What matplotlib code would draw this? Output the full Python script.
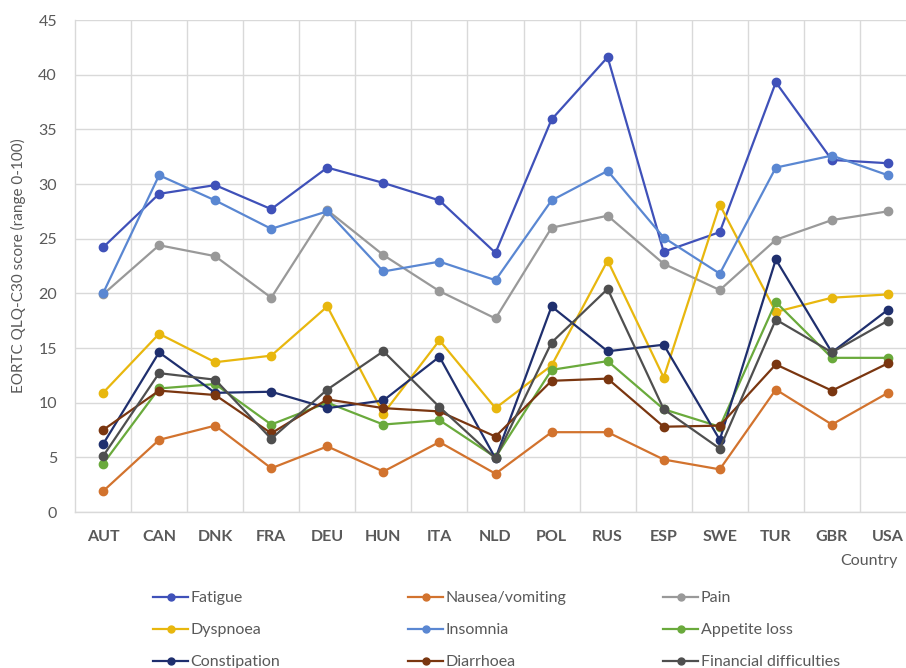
import matplotlib
matplotlib.use("Agg")
import matplotlib.pyplot as plt
import numpy as np
from matplotlib.lines import Line2D

plt.rcParams['font.family'] = ['Lato', 'DejaVu Sans']

countries = ["AUT", "CAN", "DNK", "FRA", "DEU", "HUN", "ITA", "NLD",
             "POL", "RUS", "ESP", "SWE", "TUR", "GBR", "USA"]

fatigue      = [24.2, 29.1, 29.9, 27.7, 31.5, 30.1, 28.5, 23.7, 35.9, 41.6, 23.8, 25.6, 39.3, 32.2, 31.9]
nausea       = [1.9, 6.6, 7.9, 4.0, 6.0, 3.7, 6.4, 3.5, 7.3, 7.3, 4.8, 3.9, 11.2, 8.0, 10.9]
pain         = [19.9, 24.4, 23.4, 19.6, 27.6, 23.5, 20.2, 17.7, 26.0, 27.1, 22.7, 20.3, 24.9, 26.7, 27.5]
dyspnoea     = [10.9, 16.3, 13.7, 14.3, 18.8, 9.0, 15.7, 9.5, 13.4, 23.0, 12.3, 28.1, 18.3, 19.6, 19.9]
insomnia     = [20.0, 30.8, 28.5, 25.9, 27.5, 22.0, 22.9, 21.2, 28.5, 31.2, 25.1, 21.8, 31.5, 32.6, 30.8]
appetite     = [4.4, 11.3, 11.7, 8.0, 10.0, 8.0, 8.4, 5.0, 13.0, 13.8, 9.4, 7.8, 19.2, 14.1, 14.1]
constipation = [6.2, 14.6, 10.9, 11.0, 9.5, 10.2, 14.2, 4.9, 18.8, 14.7, 15.3, 6.6, 23.1, 14.6, 18.5]
diarrhoea    = [7.5, 11.1, 10.7, 7.2, 10.3, 9.5, 9.2, 6.9, 12.0, 12.2, 7.8, 7.9, 13.5, 11.1, 13.6]
financial    = [5.1, 12.7, 12.1, 6.7, 11.2, 14.7, 9.6, 4.9, 15.5, 20.4, 9.4, 5.8, 17.6, 14.6, 17.5]

series = [
    ("Fatigue", fatigue, "#3F51B9"),
    ("Nausea/vomiting", nausea, "#D2732E"),
    ("Pain", pain, "#999999"),
    ("Dyspnoea", dyspnoea, "#E8B70E"),
    ("Insomnia", insomnia, "#5A87D2"),
    ("Appetite loss", appetite, "#6AAA3C"),
    ("Constipation", constipation, "#1F2F6E"),
    ("Diarrhoea", diarrhoea, "#7A3610"),
    ("Financial difficulties", financial, "#4F4F4F"),
]

W, H = 906, 668
fig = plt.figure(figsize=(W / 100, H / 100), dpi=100)
left, right, top, bottom = 75, 916, 20, 512
ax = fig.add_axes([left / W, 1 - bottom / H, (right - left) / W, (bottom - top) / H])

x = np.arange(len(countries))
for name, vals, col in series:
    ax.plot(x, vals, color=col, lw=1.6, marker='o', ms=6, label=name, zorder=3)

ax.set_xlim(-0.5, len(countries) - 0.5)
ax.set_ylim(0, 45)
ax.set_yticks(np.arange(0, 46, 5))
ax.set_xticks(x)
ax.set_xticklabels(countries, fontweight='bold')
ax.set_xticks(np.arange(0.5, len(countries) - 0.5, 1), minor=True)
ax.grid(True, which='major', axis='y', color='#D9D9D9', lw=1.0, zorder=0)
ax.grid(True, which='minor', axis='x', color='#D9D9D9', lw=1.0, zorder=0)
ax.tick_params(axis='both', which='both', length=0)
ax.tick_params(axis='y', labelsize=11.5, labelcolor='#595959', pad=13)
ax.tick_params(axis='x', labelsize=11.5, labelcolor='#595959', pad=13)
for s in ['top', 'right']:
    ax.spines[s].set_visible(False)
for s in ['left', 'bottom']:
    ax.spines[s].set_color('#D9D9D9')
    ax.spines[s].set_linewidth(1.0)
ax.set_axisbelow(True)

fig.text(18 / W, 1 - 266 / H, "EORTC QLQ-C30 score (range 0-100)", rotation=90,
         ha='center', va='center', fontsize=11, color='#595959')
fig.text(898 / W, 1 - 561 / H, "Country", ha='right', va='center',
         fontsize=11.5, color='#595959')

col_x = [153, 408, 663]
for c in range(3):
    hs = [Line2D([], [], color=series[r * 3 + c][2], lw=1.6, marker='o', ms=5)
          for r in range(3)]
    labs = [series[r * 3 + c][0] for r in range(3)]
    fig.legend(hs, labs, loc='upper left', bbox_to_anchor=(col_x[c] / W, 1 - 591 / H),
               frameon=False, fontsize=11.5, handlelength=2.2, handletextpad=0.15,
               labelspacing=1.12, borderpad=0, borderaxespad=0, labelcolor='#595959')

fig.savefig("out.png", dpi=100)
